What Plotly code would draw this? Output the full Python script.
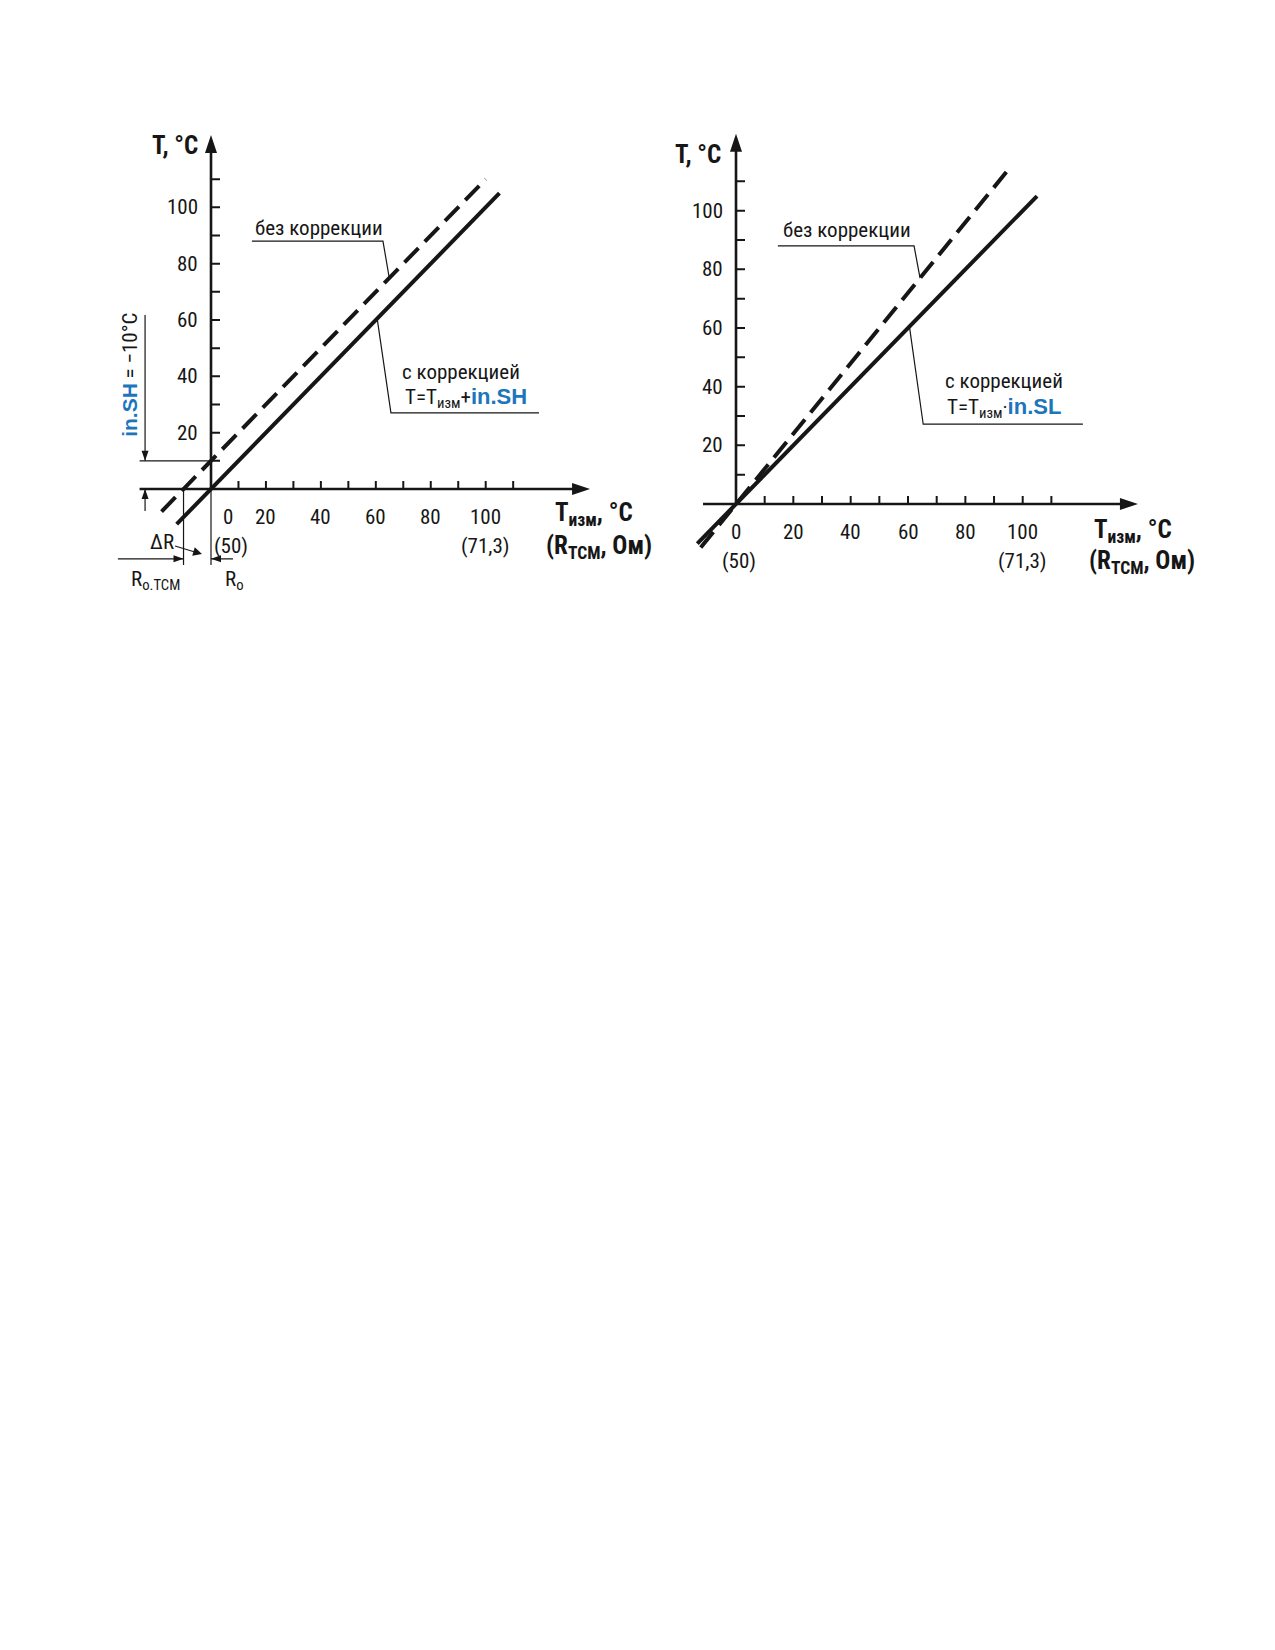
import numpy as np
import plotly.graph_objects as go

FONT = "Liberation Sans Narrow, Arial Narrow, Roboto Condensed, DejaVu Sans Condensed, sans-serif"
WIDE = "Liberation Sans, Arial, Roboto, sans-serif"
BLUE = "#1d75bc"
INK = "#161616"

# values
tick_vals = [10, 20, 30, 40, 50, 60, 70, 80, 90, 100, 110]
x_label_vals = [0, 20, 40, 60, 80, 100]
y_label_vals = [20, 40, 60, 80, 100]
ohm_vals = [0, 100]
ohm_text = ["(50)", "(71,3)"]

# left chart: shift correction (in.SH)
sh_real_x = [-12.5, 105]
sh_real_y = [-12.5, 105]
sh_raw_x = [-18, 100]
sh_raw_y = [-8, 110]
in_sh = -10

# right chart: slope correction (in.SL)
sl_real_x = [-13.5, 105]
sl_real_y = [-13.5, 105]
sl_raw_x = [-12.3, 95]
sl_raw_y = [-14.8, 114]

W, H = 1275, 1650


def domains(ox, oy, sx, sy, xr, yr):
    xd = [(ox + xr[0] * sx) / W, (ox + xr[1] * sx) / W]
    yd = [1 - (oy - yr[0] * sy) / H, 1 - (oy - yr[1] * sy) / H]
    return xd, yd


LEFT = dict(ox=211, oy=489, sx=2.747, sy=2.817, xr=[-40, 150], yr=[-40, 130])
RIGHT = dict(ox=736, oy=504, sx=2.867, sy=2.933, xr=[-25, 160], yr=[-30, 130])

fig = go.Figure()
shapes = []
notes = []

HEADS = {
    "right": "M0,0 L-10,3.5 L-10,-3.5 Z",
    "left": "M0,0 L10,3.5 L10,-3.5 Z",
    "up": "M0,0 L-3.5,-10 L3.5,-10 Z",
    "down": "M0,0 L-3.5,10 L3.5,10 Z",
}


def line(xa, ya, x0, y0, x1, y1, w=1.2, color=INK):
    shapes.append(dict(type="line", xref=xa, yref=ya, x0=x0, y0=y0, x1=x1, y1=y1,
                       line=dict(color=color, width=w)))


def head(xa, ya, x, y, way):
    shapes.append(dict(type="path", xref=xa, yref=ya, xsizemode="pixel", ysizemode="pixel",
                       xanchor=x, yanchor=y, path=HEADS[way], fillcolor=INK,
                       line=dict(width=0)))


def text(xa, ya, x, y, s, size=21, xanchor="center", yanchor="middle", xshift=0, yshift=0,
         family=FONT, angle=0):
    notes.append(dict(xref=xa, yref=ya, x=x, y=y, text=s, showarrow=False, xanchor=xanchor,
                      yanchor=yanchor, xshift=xshift, yshift=yshift, textangle=angle,
                      font=dict(family=family, size=size, color=INK)))


def axes(xa, ya, x_start, x_tip, y_start, y_tip, zero_shift):
    line(xa, ya, x_start, 0, x_tip - 4, 0, w=2.6)
    line(xa, ya, 0, y_start, 0, y_tip - 4, w=2.6)
    shapes.append(dict(type="path", xref=xa, yref=ya, xsizemode="pixel", ysizemode="pixel",
                       xanchor=x_tip, yanchor=0, path="M0,0 L-18,6 L-18,-6 Z",
                       fillcolor=INK, line=dict(width=0)))
    shapes.append(dict(type="path", xref=xa, yref=ya, xsizemode="pixel", ysizemode="pixel",
                       xanchor=0, yanchor=y_tip, path="M0,0 L-6,-18 L6,-18 Z",
                       fillcolor=INK, line=dict(width=0)))
    for t in tick_vals:
        shapes.append(dict(type="line", xref=xa, yref=ya, ysizemode="pixel", yanchor=0,
                           x0=t, x1=t, y0=0, y1=8, line=dict(color=INK, width=2)))
        shapes.append(dict(type="line", xref=xa, yref=ya, xsizemode="pixel", xanchor=0,
                           x0=0, x1=9, y0=t, y1=t, line=dict(color=INK, width=2)))
    for v in x_label_vals:
        text(xa, ya, v, 0, str(v), yshift=-28, xshift=zero_shift if v == 0 else 0)
    for v, s in zip(ohm_vals, ohm_text):
        text(xa, ya, v, 0, s, yshift=-57, xshift=zero_shift + 3 if v == 0 else 0)
    for v in y_label_vals:
        text(xa, ya, 0, v, str(v), xanchor="right", xshift=-11)


def data_lines(xa, ya, rx, ry, dx, dy):
    fig.add_trace(go.Scatter(x=rx, y=ry, mode="lines", xaxis=xa, yaxis=ya,
                             line=dict(color=INK, width=4), hoverinfo="skip", showlegend=False))
    fig.add_trace(go.Scatter(x=dx, y=dy, mode="lines", xaxis=xa, yaxis=ya,
                             line=dict(color=INK, width=4, dash="20px,9px"),
                             hoverinfo="skip", showlegend=False))


def leader(xa, ya, xs, ys):
    fig.add_trace(go.Scatter(x=xs, y=ys, mode="lines", xaxis=xa, yaxis=ya,
                             line=dict(color=INK, width=1.2), hoverinfo="skip", showlegend=False))


def blue(s, size=22):
    return (f"<b><span style='color:{BLUE};font-family:{WIDE};"
            f"font-size:{size}px'>{s}</span></b>")


# ---------- left chart ----------
xa, ya = "x", "y"
axes(xa, ya, -26, 138, 0, 125.7, 17)
data_lines(xa, ya, sh_real_x, sh_real_y, sh_raw_x, sh_raw_y)
leader(xa, ya, [14.9, 62.6, 64.9], [88, 88, np.interp(64.9, sh_raw_x, sh_raw_y)])
leader(xa, ya, [60.5, 65.5, 119.4], [np.interp(60.5, sh_real_x, sh_real_y), 27, 27])
text(xa, ya, 0, 122, "<b>T, °C</b>", size=25, xanchor="right", xshift=-11)
text(xa, ya, 124.5, 0, "<b>T<sub>изм</sub>, °C</b>", size=25, xanchor="left", yshift=-25)
text(xa, ya, 121.2, 0, "<b>(R<sub>TCM</sub>, Ом)</b>", size=25, xanchor="left", yshift=-58)
text(xa, ya, 15.3, 92.7, "без коррекции", xanchor="left")
text(xa, ya, 68.8, 41.5, "с коррекцией", xanchor="left")
text(xa, ya, 69.9, 32.3, "T=T<sub>изм</sub>+" + blue("in.SH"), xanchor="left")
# in.SH dimension
line(xa, ya, -26, -in_sh, 0, -in_sh)
line(xa, ya, -24, 61.8, -24, -in_sh)
head(xa, ya, -24, -in_sh, "down")
line(xa, ya, -24, 0, -24, -7.8)
head(xa, ya, -24, 0, "up")
text(xa, ya, -29.5, 40.5, blue("in.SH", 21) + " = −10°C", angle=-90)
# ΔR dimension
line(xa, ya, in_sh, 0, in_sh, -27)
line(xa, ya, 0, 0, 0, -27)
line(xa, ya, -33.9, -24.8, in_sh, -24.8)
head(xa, ya, in_sh, -24.8, "right")
line(xa, ya, 8, -24.8, 0, -24.8)
head(xa, ya, 0, -24.8, "left")
notes.append(dict(xref=xa, yref=ya, axref=xa, ayref=ya, x=-3.3, y=-23.1, ax=-18, ay=-18.8,
                  text="ΔR", showarrow=True, arrowhead=2, arrowsize=1.6, arrowwidth=1.1,
                  arrowcolor=INK, font=dict(family=FONT, size=21, color=INK)))
text(xa, ya, -20.2, -32.5, "R<sub>o.TCM</sub>")
text(xa, ya, 8.4, -32.5, "R<sub>o</sub>")

# ---------- right chart ----------
xa, ya = "x2", "y2"
axes(xa, ya, -11.5, 140.2, 0, 126.2, 0)
data_lines(xa, ya, sl_real_x, sl_real_y, sl_raw_x, sl_raw_y)
leader(xa, ya, [14.6, 62.1, 64.2], [88, 88, np.interp(64.2, sl_raw_x, sl_raw_y)])
leader(xa, ya, [60.5, 65.3, 121], [np.interp(60.5, sl_real_x, sl_real_y), 27.2, 27.2])
text(xa, ya, 0, 119, "<b>T, °C</b>", size=25, xanchor="right", xshift=-13)
text(xa, ya, 124.2, 0, "<b>T<sub>изм</sub>, °C</b>", size=25, xanchor="left", yshift=-27)
text(xa, ya, 122.4, 0, "<b>(R<sub>TCM</sub>, Ом)</b>", size=25, xanchor="left", yshift=-58)
text(xa, ya, 15.7, 93.4, "без коррекции", xanchor="left")
text(xa, ya, 72.2, 41.9, "с коррекцией", xanchor="left")
text(xa, ya, 72.9, 32.7, "T=T<sub>изм</sub>·" + blue("in.SL"), xanchor="left")

lx, ly = domains(**LEFT)
rx, ry = domains(**RIGHT)
ax_style = dict(visible=False, showgrid=False, zeroline=False, fixedrange=True)
fig.update_layout(
    width=W, height=H, margin=dict(l=0, r=0, t=0, b=0),
    paper_bgcolor="white", plot_bgcolor="rgba(0,0,0,0)",
    xaxis=dict(domain=lx, range=LEFT["xr"], **ax_style),
    yaxis=dict(domain=ly, range=LEFT["yr"], **ax_style),
    xaxis2=dict(domain=rx, range=RIGHT["xr"], anchor="y2", **ax_style),
    yaxis2=dict(domain=ry, range=RIGHT["yr"], anchor="x2", **ax_style),
    shapes=shapes, annotations=notes, showlegend=False,
)

# drop the default page margin so the figure sits at the window's corner
fig.write_html("out.html", config={"displayModeBar": False},
               post_script="document.body.style.margin='0';")
